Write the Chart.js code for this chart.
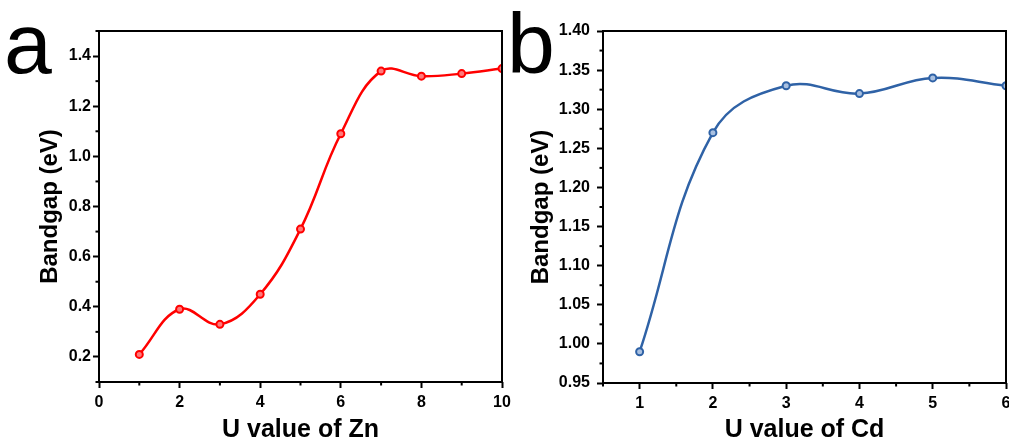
<!DOCTYPE html>
<html>
<head>
<meta charset="utf-8">
<script src="https://cdn.jsdelivr.net/npm/chart.js@4.4.1/dist/chart.umd.min.js"></script>
<style>
  html, body { margin: 0; padding: 0; background: #fff; overflow: hidden; width: 1009px; height: 444px; }
  .panel { position: absolute; top: 0; }
  .letter { position: absolute; font-family: "Liberation Sans", Arial, sans-serif; font-size: 86px; line-height: 86px; color: #000; z-index: 2; }
</style>
</head>
<body>
<div class="panel" style="left:0"><canvas id="chartZn" width="520" height="444"></canvas></div>
<div class="panel" style="left:500px"><canvas id="chartCd" width="540" height="444"></canvas></div>
<div class="letter" style="left:4px;top:0px">a</div>
<div class="letter" style="left:507px;top:0px">b</div>
<script>
// panel a - Zn
const znU = [1, 2, 3, 4, 5, 6, 7, 8, 9, 10];
const znGap = [0.21, 0.39, 0.33, 0.45, 0.71, 1.09, 1.34, 1.32, 1.33, 1.35];
const znTicksX = [0, 2, 4, 6, 8, 10];
const znTicksY = [0.2, 0.4, 0.6, 0.8, 1.0, 1.2, 1.4];

// panel b - Cd
const cdU = [1, 2, 3, 4, 5, 6];
const cdGap = [0.99, 1.27, 1.33, 1.32, 1.34, 1.33];
const cdTicksX = [1, 2, 3, 4, 5, 6];
const cdTicksY = [0.95, 1.00, 1.05, 1.10, 1.15, 1.20, 1.25, 1.30, 1.35, 1.40];

Chart.defaults.font.family = '"Liberation Sans", Arial, sans-serif';
Chart.defaults.font.weight = 'bold';
Chart.defaults.color = '#000';

// box around plot + minor ticks
const frame = {
  id: 'frame',
  afterDatasetsDraw(chart, args, opts) {
    const { ctx, chartArea: a, scales } = chart;
    ctx.save();
    ctx.strokeStyle = '#000';
    ctx.lineWidth = 2;
    ctx.strokeRect(a.left, a.top, a.right - a.left, a.bottom - a.top);
    const drawMinor = (scale, step, majors, horiz) => {
      for (let v = scale.min; v <= scale.max + 1e-9; v += step) {
        if (majors.some(m => Math.abs(m - v) < 1e-6)) continue;
        const p = scale.getPixelForValue(v);
        ctx.beginPath();
        if (horiz) { ctx.moveTo(p, a.bottom); ctx.lineTo(p, a.bottom + 3.5); }
        else { ctx.moveTo(a.left, p); ctx.lineTo(a.left - 3.5, p); }
        ctx.stroke();
      }
    };
    drawMinor(scales.x, opts.minorX, opts.majorX, true);
    drawMinor(scales.y, opts.minorY, opts.majorY, false);
    ctx.restore();
  }
};

function makeChart(id, xs, ys, color, fill, cfg) {
  return new Chart(document.getElementById(id), {
    type: 'line',
    data: {
      datasets: [{
        data: xs.map((x, i) => ({ x: x, y: ys[i] })),
        borderColor: color,
        borderWidth: 2.5,
        tension: 0.4,
        pointRadius: 3.5,
        pointBorderWidth: 2,
        pointBorderColor: color,
        pointBackgroundColor: fill
      }]
    },
    options: {
      responsive: false,
      animation: false,
      events: [],
      layout: { padding: { top: 31, right: cfg.padRight, left: 0, bottom: 0 } },
      plugins: {
        legend: { display: false },
        tooltip: { enabled: false },
        frame: { minorX: cfg.minorX, minorY: cfg.minorY, majorX: cfg.ticksX, majorY: cfg.ticksY }
      },
      scales: {
        x: {
          type: 'linear',
          min: cfg.xMin, max: cfg.xMax,
          afterBuildTicks: s => { s.ticks = cfg.ticksX.map(v => ({ value: v })); },
          afterFit: s => { s.height = cfg.xHeight; },
          grid: { drawOnChartArea: false, drawTicks: true, tickLength: 6, tickWidth: 2, tickColor: '#000' },
          border: { display: false },
          ticks: { font: { size: 16, weight: 'bold' }, padding: 5, maxRotation: 0, callback: v => String(v) },
          title: { display: true, text: cfg.xTitle, font: { size: 25, weight: 'bold', lineHeight: 1 }, padding: { top: 0, bottom: 1 } }
        },
        y: {
          min: cfg.yMin, max: cfg.yMax,
          afterBuildTicks: s => { s.ticks = cfg.ticksY.map(v => ({ value: v })); },
          afterFit: s => { s.width = cfg.yWidth; },
          grid: { drawOnChartArea: false, drawTicks: true, tickLength: 6, tickWidth: 2, tickColor: '#000' },
          border: { display: false },
          ticks: { font: { size: 16, weight: 'bold' }, padding: cfg.yPad, callback: v => v.toFixed(cfg.dec) },
          title: { display: true, text: 'Bandgap (eV)', font: { size: 24, weight: 'bold', lineHeight: 1 }, padding: { top: cfg.yTitlePad, bottom: 0 } }
        }
      }
    },
    plugins: [frame]
  });
}

makeChart('chartZn', znU, znGap, '#ff0000', '#ff7a7a', {
  padRight: 18, xMin: 0, xMax: 10, yMin: 0.1, yMax: 1.5,
  ticksX: znTicksX, ticksY: znTicksY, minorX: 1, minorY: 0.1,
  xHeight: 62, yWidth: 99, yPad: 2, dec: 1, yTitlePad: 38, xTitle: 'U value of Zn'
});

makeChart('chartCd', cdU, cdGap, '#2f62a6', '#a9c0e0', {
  padRight: 34, xMin: 0.5, xMax: 6, yMin: 0.95, yMax: 1.40,
  ticksX: cdTicksX, ticksY: cdTicksY, minorX: 0.5, minorY: 0.025,
  xHeight: 61, yWidth: 103, yPad: 7, dec: 2, yTitlePad: 29, xTitle: 'U value of Cd'
});
</script>
</body>
</html>
